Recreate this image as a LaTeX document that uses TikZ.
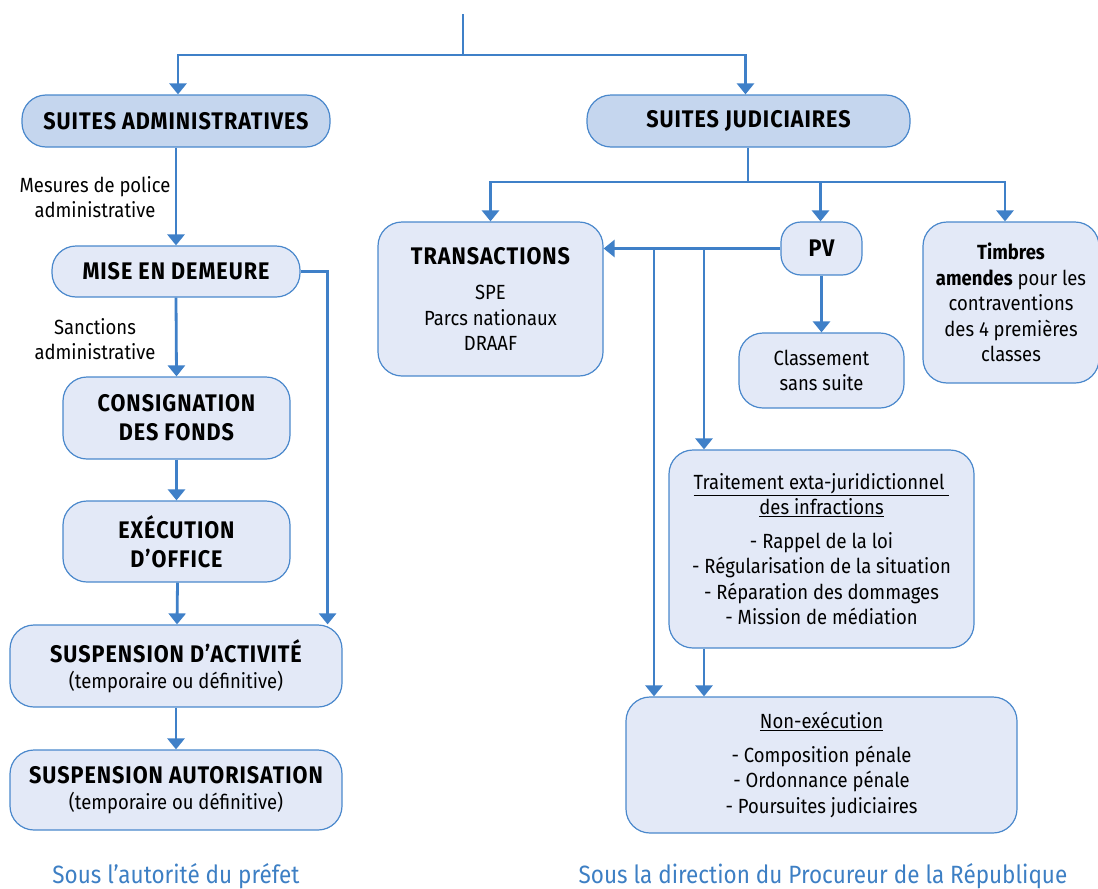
\documentclass[tikz,border=0pt]{standalone}
\usepackage{fontspec}
\setmainfont{Fira Sans}[FakeStretch=0.9]
\newfontfamily\capsfont{Fira Sans}[FakeStretch=0.9,LetterSpace=4]
\usetikzlibrary{arrows.meta,calc}
\definecolor{lineblue}{HTML}{3F80C8}
\definecolor{boxborder}{HTML}{4A88CC}
\definecolor{fillA}{HTML}{C5D6EE}
\definecolor{fillB}{HTML}{E3E9F7}
\definecolor{txtblue}{HTML}{3D7FC4}
\newcommand{\capstext}{\fontsize{24}{29}\capsfont\bfseries}
\begin{document}
\begin{tikzpicture}[x=1pt,y=-1pt,
  boxB/.style={draw=boxborder, line width=1.2pt, fill=fillB, rounded corners=24pt, align=center, inner sep=0pt, font=\fontsize{20.5}{25.5}\selectfont},
  boxA/.style={boxB, fill=fillA},
  capsf/.style={font=\capstext},
  lab/.style={align=center, inner sep=0pt, font=\fontsize{20.5}{25.5}\selectfont},
  foot/.style={inner sep=0pt, text=txtblue, font=\fontsize{25}{30}\selectfont},
  conn/.style={draw=lineblue, line width=2.8pt},
  arr/.style={conn, -{Triangle[width=17pt,length=11pt]}}
]
\useasboundingbox (0,0) rectangle (1098,889);

% left column
\node[boxA, capsf, minimum width=308pt, minimum height=52pt] (sa) at (176,121) {SUITES ADMINISTRATIVES};
\node[boxB, capsf, minimum width=248pt, minimum height=51pt] (mise) at (176,271.5) {MISE EN DEMEURE};
\node[boxB, capsf, minimum width=227pt, minimum height=82pt] (cons) at (176.5,418) {CONSIGNATION\\DES FONDS};
\node[boxB, capsf, minimum width=227pt, minimum height=81pt] (exec) at (176.5,541.5) {EXÉCUTION\\D’OFFICE};
\node[boxB, minimum width=332pt, minimum height=82pt] (susp) at (176,666) {{\fontsize{24}{27}\capsfont\bfseries SUSPENSION D’ACTIVITÉ}\\(temporaire ou définitive)};
\node[boxB, minimum width=332pt, minimum height=80pt] (auto) at (176,790) {{\fontsize{24}{27}\capsfont\bfseries SUSPENSION AUTORISATION}\\(temporaire ou définitive)};

\node[lab] (l1) at (95,197) {Mesures de police\\administrative};
\node[lab] (l2) at (95,339) {Sanctions\\administrative};

\node[foot] (f1) at (176,876) {Sous l’autorité du préfet};

% right column
\node[boxA, capsf, minimum width=323pt, minimum height=52pt] (sj) at (748.5,121) {SUITES JUDICIAIRES};
\node[boxB, minimum width=225pt, minimum height=154pt] (trans) at (490.5,299) {{\fontsize{24}{27}\capsfont\bfseries TRANSACTIONS}\\[10pt]SPE\\Parcs nationaux\\DRAAF};
\node[boxB, capsf, minimum width=81pt, minimum height=53pt, rounded corners=20pt] (pv) at (821.5,248.5) {PV};
\node[boxB, minimum width=165pt, minimum height=75pt] (cls) at (821.5,370.5) {Classement\\sans suite};
\node[boxB, minimum width=176pt, minimum height=161pt] (timb) at (1011,302.5) {\textbf{Timbres}\\\textbf{amendes} pour les\\contraventions\\des 4 premières\\classes};
\node[boxB, minimum width=305pt, minimum height=198pt] (trait) at (821.5,549) {\underline{Traitement exta-juridictionnel\ }\\\underline{des infractions}\\[8pt]- Rappel de la loi\\- Régularisation de la situation\\- Réparation des dommages\\- Mission de médiation};
\node[boxB, minimum width=391pt, minimum height=136pt] (non) at (821.5,765) {\underline{Non-exécution}\\[8pt]- Composition pénale\\- Ordonnance pénale\\- Poursuites judiciaires};

\node[foot] (f2) at (823,876) {Sous la direction du Procureur de la République};

% connectors
\coordinate (top) at (463,14);
\coordinate (tj) at (463,55);
\draw[conn] (top) -- (tj);
\draw[arr] (tj) -| ([xshift=2pt]sa.north);
\draw[arr] (tj) -| ([xshift=-3pt]sj.north);
\draw[arr] (sa.south) -- (mise.north);
\draw[arr] (mise.south) -- (cons.north);
\draw[arr] (cons.south) -- (exec.north);
\draw[arr] ([xshift=1pt]exec.south) -- ([xshift=1pt]susp.north);
\draw[arr] (susp.south) -- (auto.north);
\draw[arr] (mise.east) -| ([xshift=-15pt]susp.north east);

\coordinate (jb) at (748,182);
\draw[conn] ([xshift=-0.5pt]sj.south) -- (jb);
\draw[arr] (jb) -| (trans.north);
\draw[arr] (jb) -| ([xshift=-1pt]pv.north);
\draw[arr] (jb) -| ([xshift=-6pt]timb.north);
\draw[arr] (pv.west) -- (pv.west -| trans.east);
\draw[arr] (pv.south) -- (cls.north);
\coordinate (b1) at (654,249);
\coordinate (b2) at (704,249);
\draw[arr] (b1) -- (b1 |- non.north);
\draw[arr] (b2) -- (b2 |- trait.north);
\draw[arr] (b2 |- trait.south) -- (b2 |- non.north);
\end{tikzpicture}
\end{document}
